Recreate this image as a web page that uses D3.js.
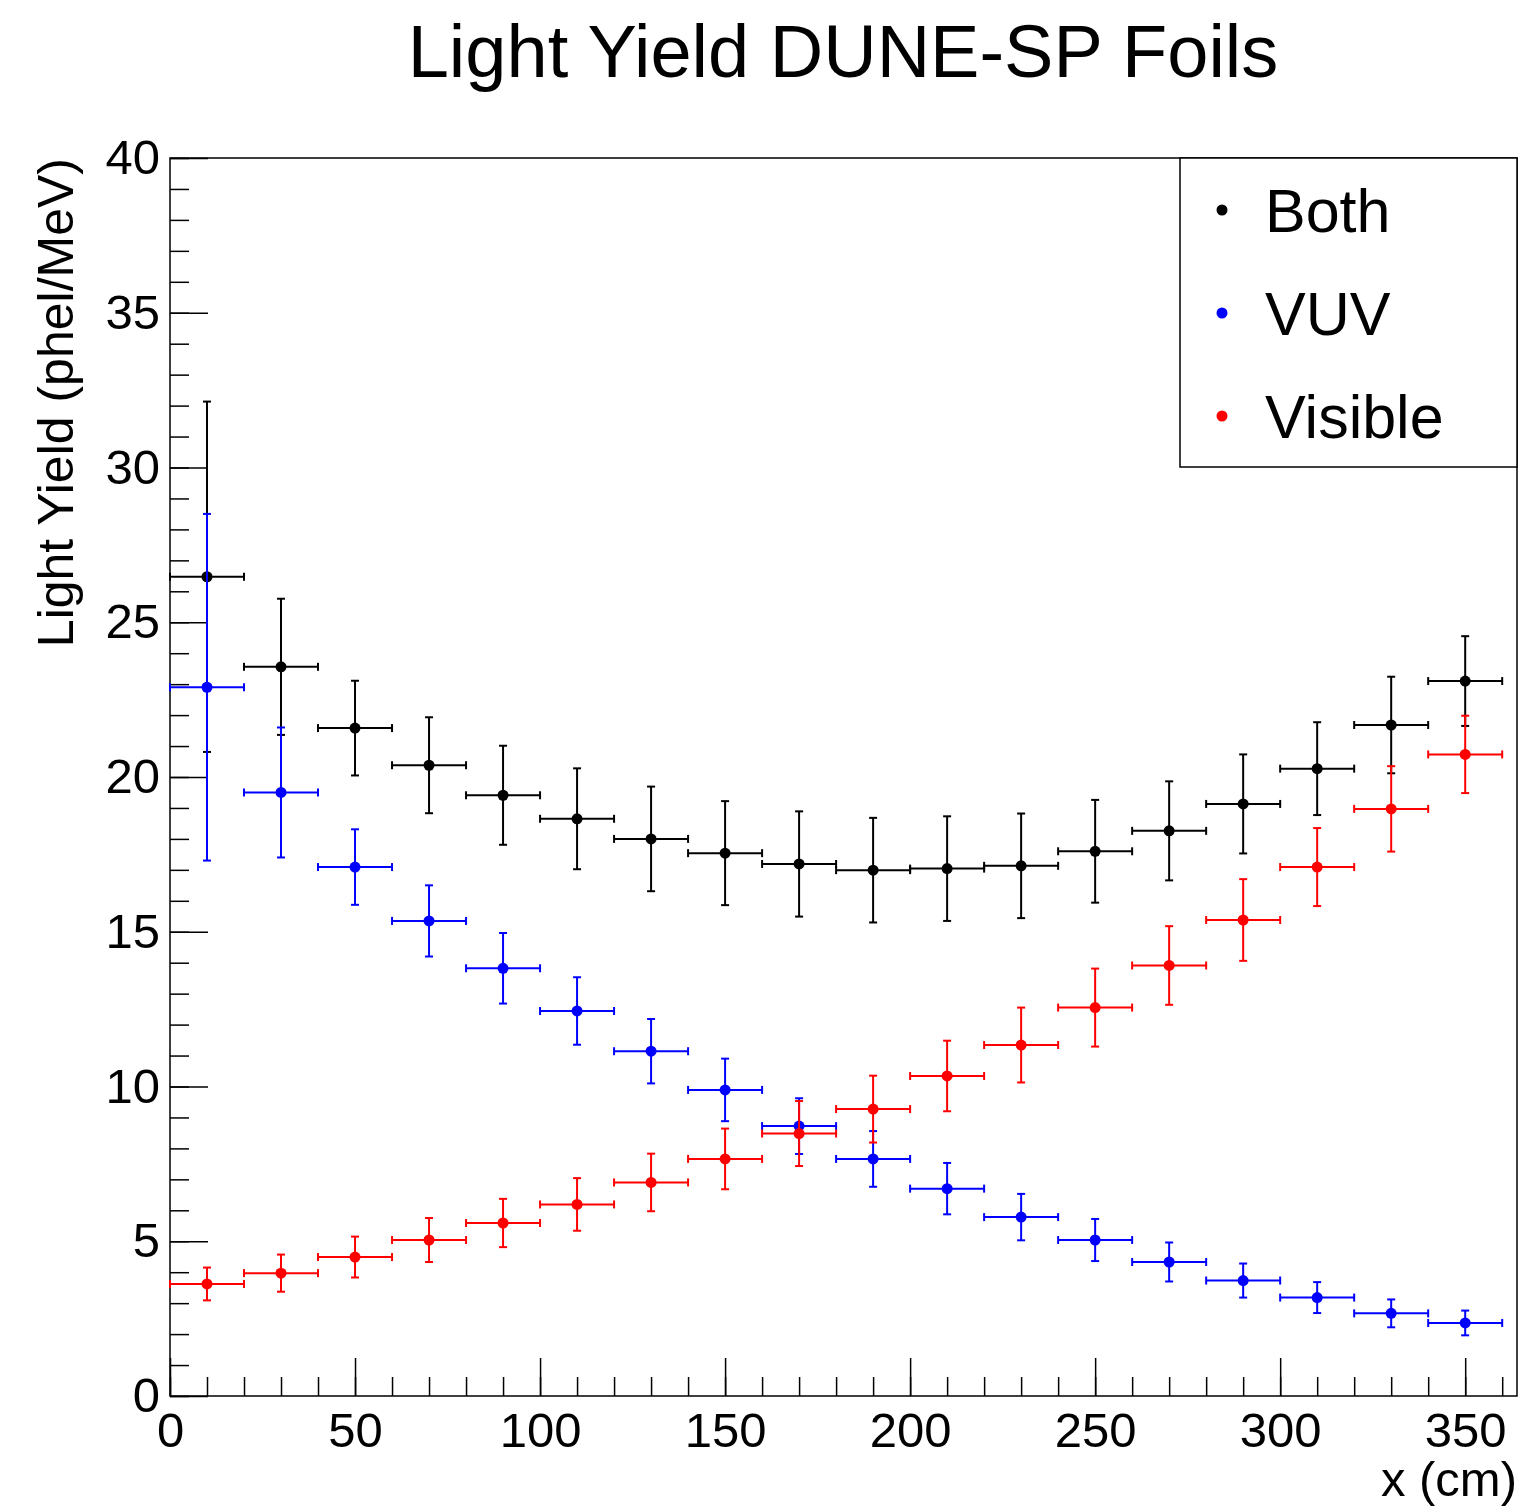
<!DOCTYPE html>
<html>
<head>
<meta charset="utf-8">
<script src="https://cdn.jsdelivr.net/npm/d3@7"></script>
<style>
    body { margin: 0; background: #fff; }
    text { font-family: "Liberation Sans", Arial, Helvetica, sans-serif; fill: #000; }
</style>
</head>
<body>
<div id="chart"></div>
<script>
//bin centers (cm) and half width of each bin
var xPos = [10, 30, 50, 70, 90, 110, 130, 150, 170, 190, 210, 230, 250, 270, 290, 310, 330, 350];
var xErr = 10;

//light yield values (phel/MeV)
var bothY = [26.47, 23.56, 21.58, 20.38, 19.41, 18.65, 18.0, 17.54, 17.19, 16.99, 17.04, 17.13, 17.6, 18.26, 19.13, 20.27, 21.68, 23.1];
var bothErr = [5.66, 2.2, 1.53, 1.55, 1.6, 1.63, 1.69, 1.68, 1.7, 1.69, 1.69, 1.69, 1.66, 1.6, 1.6, 1.5, 1.56, 1.45];

var vuvY = [22.9, 19.5, 17.09, 15.35, 13.82, 12.44, 11.14, 9.89, 8.72, 7.66, 6.7, 5.78, 5.04, 4.33, 3.73, 3.18, 2.67, 2.36];
var vuvErr = [5.6, 2.1, 1.22, 1.15, 1.14, 1.09, 1.04, 1.01, 0.9, 0.9, 0.83, 0.75, 0.68, 0.63, 0.55, 0.5, 0.45, 0.4];

var visY = [3.62, 3.97, 4.49, 5.04, 5.59, 6.19, 6.9, 7.66, 8.48, 9.27, 10.34, 11.34, 12.55, 13.91, 15.38, 17.09, 18.97, 20.73];
var visErr = [0.53, 0.6, 0.66, 0.71, 0.78, 0.85, 0.93, 0.98, 1.05, 1.08, 1.14, 1.21, 1.26, 1.27, 1.32, 1.26, 1.38, 1.25];

var seriesNames = ["Both", "VUV", "Visible"];
var seriesColors = ["#000000", "#0000ff", "#ff0000"];

//tick values
var yMajor = [0, 5, 10, 15, 20, 25, 30, 35, 40];
var xMajor = [0, 50, 100, 150, 200, 250, 300, 350];

//svg size and frame
var svgW = 1521;
var svgH = 1507;
var margin = { top: 158, right: 4, bottom: 111, left: 170 };
var width = svgW - margin.left - margin.right;
var height = svgH - margin.top - margin.bottom;

var svg = d3.select("#chart").append("svg")
    .attr("width", svgW)
    .attr("height", svgH);

var chartGroup = svg.append("g")
    .attr("transform", `translate(${margin.left}, ${margin.top})`);

//scales
var xScale = d3.scaleLinear().domain([0, 364]).range([0, width]);
var yScale = d3.scaleLinear().domain([0, 40]).range([height, 0]);

//minor ticks (no labels)
chartGroup.append("g")
    .attr("class", "axis")
    .attr("transform", `translate(0, ${height})`)
    .call(d3.axisBottom(xScale).tickValues(d3.range(0, 361, 10)).tickSize(-19).tickFormat(""));
chartGroup.append("g")
    .attr("class", "axis")
    .call(d3.axisLeft(yScale).tickValues(d3.range(0, 41, 1)).tickSize(-19).tickFormat(""));

//major ticks with labels
var xAxis = chartGroup.append("g")
    .attr("class", "axis")
    .attr("transform", `translate(0, ${height})`)
    .call(d3.axisBottom(xScale).tickValues(xMajor).tickSize(-38).tickPadding(16));
var yAxis = chartGroup.append("g")
    .attr("class", "axis")
    .call(d3.axisLeft(yScale).tickValues(yMajor).tickSize(-38).tickPadding(10));

chartGroup.selectAll(".axis path").remove();
chartGroup.selectAll(".axis line").attr("stroke", "#000").attr("stroke-width", 1.5);
xAxis.selectAll("text").attr("font-size", 49).attr("font-family", null);
yAxis.selectAll("text").attr("font-size", 49).attr("font-family", null);

//frame
chartGroup.append("rect")
    .attr("x", 0)
    .attr("y", 0)
    .attr("width", width)
    .attr("height", height)
    .attr("fill", "none")
    .attr("stroke", "#000")
    .attr("stroke-width", 1.5);

//draw one series with x and y error bars plus caps
function drawSeries(yVals, yErrs, color) {
    var data = xPos.map((x, i) => ({ x: x, y: yVals[i], e: yErrs[i] }));
    var g = chartGroup.append("g")
        .attr("stroke", color)
        .attr("stroke-width", 2);
    var cap = 4;

    var pts = g.selectAll(".pt").data(data).enter().append("g");

    //horizontal bar
    pts.append("line")
        .attr("x1", d => xScale(d.x - xErr))
        .attr("x2", d => xScale(d.x + xErr))
        .attr("y1", d => yScale(d.y))
        .attr("y2", d => yScale(d.y));
    //vertical bar
    pts.append("line")
        .attr("x1", d => xScale(d.x))
        .attr("x2", d => xScale(d.x))
        .attr("y1", d => yScale(d.y + d.e))
        .attr("y2", d => yScale(d.y - d.e));
    //caps on the horizontal bar
    [-1, 1].forEach(function(s) {
        pts.append("line")
            .attr("x1", d => xScale(d.x + s * xErr))
            .attr("x2", d => xScale(d.x + s * xErr))
            .attr("y1", d => yScale(d.y) - cap)
            .attr("y2", d => yScale(d.y) + cap);
    });
    //caps on the vertical bar
    [-1, 1].forEach(function(s) {
        pts.append("line")
            .attr("x1", d => xScale(d.x) - cap)
            .attr("x2", d => xScale(d.x) + cap)
            .attr("y1", d => yScale(d.y + s * d.e))
            .attr("y2", d => yScale(d.y + s * d.e));
    });
    //marker
    pts.append("circle")
        .attr("cx", d => xScale(d.x))
        .attr("cy", d => yScale(d.y))
        .attr("r", 5.5)
        .attr("stroke", "none")
        .attr("fill", color);
}

drawSeries(bothY, bothErr, seriesColors[0]);
drawSeries(vuvY, vuvErr, seriesColors[1]);
drawSeries(visY, visErr, seriesColors[2]);

//legend box
var legend = svg.append("g");
legend.append("rect")
    .attr("x", 1180)
    .attr("y", 158)
    .attr("width", 1517 - 1180)
    .attr("height", 467 - 158)
    .attr("fill", "#fff")
    .attr("stroke", "#000")
    .attr("stroke-width", 1.5);

seriesNames.forEach(function(name, i) {
    var cy = 210 + i * 103;
    legend.append("circle")
        .attr("cx", 1222)
        .attr("cy", cy)
        .attr("r", 5.5)
        .attr("fill", seriesColors[i]);
    legend.append("text")
        .attr("x", 1265)
        .attr("y", cy + 22)
        .attr("font-size", 61)
        .text(name);
});

//title
svg.append("text")
    .attr("x", 843)
    .attr("y", 77)
    .attr("text-anchor", "middle")
    .attr("font-size", 74)
    .text("Light Yield DUNE-SP Foils");

//axis titles
svg.append("text")
    .attr("x", 1517)
    .attr("y", 1496)
    .attr("text-anchor", "end")
    .attr("font-size", 49)
    .text("x (cm)");

svg.append("text")
    .attr("transform", "translate(73, 158) rotate(-90)")
    .attr("text-anchor", "end")
    .attr("font-size", 50)
    .text("Light Yield (phel/MeV)");
</script>
</body>
</html>
